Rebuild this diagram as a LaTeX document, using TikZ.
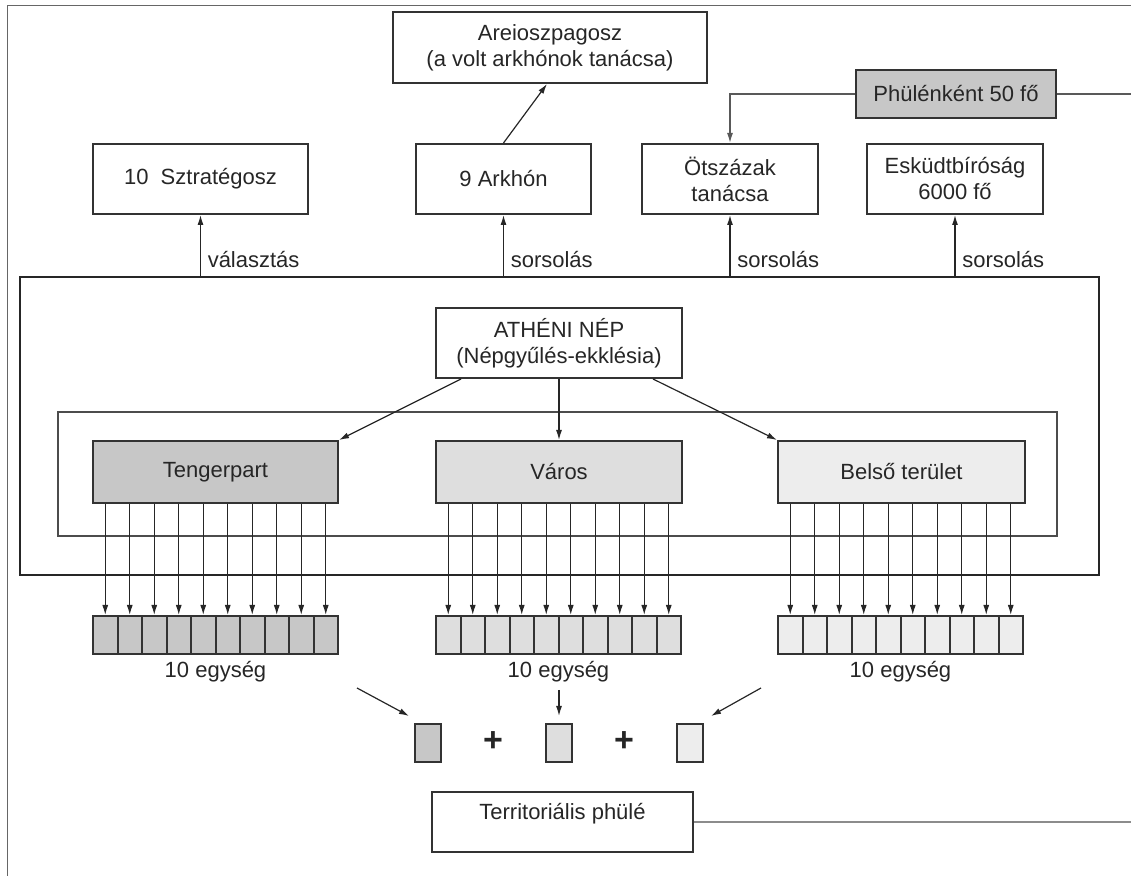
\documentclass[tikz,border=0pt]{standalone}
\usepackage{fontspec}
\setmainfont{Liberation Sans}
\usetikzlibrary{arrows.meta}

\begin{document}
\begin{tikzpicture}[>={Latex[length=5pt,width=3pt]},x=0.5pt,y=-0.5pt,
	font=\fontsize{11}{13}\selectfont,text=black!85,
	doboz/.style={draw=black!80,line width=1pt,minimum height=35pt,align=center,inner sep=2pt},
	sejt/.style={draw=black!80,line width=1pt,minimum width=12.25pt,minimum height=19pt,inner sep=0pt},
	vonal/.style={black!85,line width=0.6pt}]
	\useasboundingbox (0,0) rectangle (1131,876);
	\coordinate (jobb) at (1131,0);
	\draw[black!60,line width=0.5pt] (1131,6)--(7,6)--(7,876);
	% felso sor
	\node[doboz,minimum width=157pt,minimum height=35.5pt] (areio) at (550,47.5) {Areioszpagosz\\(a volt arkhónok tanácsa)};
	\node[doboz,minimum width=100pt,minimum height=24pt,fill=black!22] (phule) at (956,94) {Phülénként 50 fő};
	\node[doboz,minimum width=107.5pt] (strat) at (200.5,179) {10~~Sztratégosz};
	\node[doboz,minimum width=87.5pt] (arkhon) at (503.5,179) {9 Arkhón};
	\node[doboz,minimum width=88pt] (otszaz) at (730,179) {Ötszázak\\tanácsa};
	\node[doboz,minimum width=88pt] (eskudt) at (955,179) {Esküdtbíróság\\6000 fő};
	\draw[->,vonal] (arkhon.north)--([xshift=-1.5pt]areio.south);
	\draw[->,black!65,line width=0.7pt] (phule.west)-|(otszaz.north);
	\draw[black!65,line width=0.7pt] (phule.east)--(phule.east-|jobb);
	% nep
	\node[draw=black!85,line width=1pt,minimum width=539.5pt,minimum height=149pt] (demos) at (559.5,426) {};
	\node[draw=black!70,line width=1pt,minimum width=499.5pt,minimum height=62pt] (korzet) at (557.5,474) {};
	\node[doboz,minimum width=123pt] (nep) at (559,343) {ATHÉNI NÉP\\(Népgyűlés-ekklésia)};
	\foreach \n/\t in {strat/választás,arkhon/sorsolás,otszaz/sorsolás,eskudt/sorsolás}
		\draw[->,vonal] (\n.south|-demos.north)--node[right,pos=0.27]{\t}(\n.south);
	\node[doboz,minimum width=122.5pt,minimum height=31pt,fill=black!22] (tenger) at (215.5,472) {Tengerpart};
	\node[doboz,minimum width=123pt,minimum height=31pt,fill=black!13] (varos) at (559,472) {Város};
	\node[doboz,minimum width=123.5pt,minimum height=31pt,fill=black!7] (belso) at (901.5,472) {Belső terület};
	\draw[->,vonal] ([xshift=13pt]nep.south west)--(tenger.north east);
	\draw[->,vonal] (nep.south)--(varos.north);
	\draw[->,vonal] ([xshift=-15pt]nep.south east)--(belso.north west);
	% egysegek
	\foreach \r/\reg/\kx/\col in {1/tenger/93/black!22,2/varos/436/black!13,3/belso/778/black!7}{
		\foreach \i in {1,...,10}{
			\node[sejt,fill=\col] (c\r\i) at ({\kx+24.5*(\i-0.5)},635) {};
			\draw[->,vonal] (c\r\i.north|-\reg.south)--(c\r\i.north);
		}
		\node (l\r) at ({\kx+122.5},672) {10 egység};
	}
	% phule
	\node[sejt,minimum width=13pt,fill=black!22] (k1) at (428,743) {};
	\node[sejt,minimum width=13pt,fill=black!13] (k2) at (559,743) {};
	\node[sejt,minimum width=13pt,fill=black!7] (k3) at (690,743) {};
	\node[font=\fontsize{17}{17}\selectfont\bfseries] (p1) at (493,742) {+};
	\node[font=\fontsize{17}{17}\selectfont\bfseries] (p2) at (624,742) {+};
	\coordinate (f1) at (357,688);
	\coordinate (f2) at (559,690);
	\coordinate (f3) at (761,688);
	\draw[->,vonal] (f1)--([xshift=-2.5pt,yshift=3.5pt]k1.north west);
	\draw[->,vonal] (f2)--([yshift=3.5pt]k2.north);
	\draw[->,vonal] (f3)--([xshift=3.5pt,yshift=3.5pt]k3.north east);
	\node[draw=black!80,line width=0.8pt,minimum width=130.5pt,minimum height=30pt,text depth=11pt] (terr) at (562.5,822) {Territoriális phülé};
	\draw[black!45,line width=1pt] (terr.east)--(terr.east-|jobb);
\end{tikzpicture}
\end{document}
